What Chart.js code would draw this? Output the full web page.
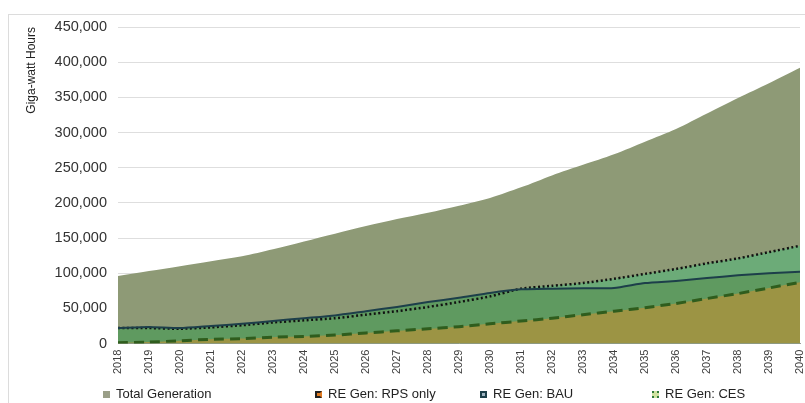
<!DOCTYPE html>
<html>
<head>
<meta charset="utf-8">
<script src="https://cdn.jsdelivr.net/npm/chart.js@4"></script>
<style>
  html, body { margin: 0; padding: 0; background: #fff; }
  #wrap { position: relative; width: 805px; height: 403px; overflow: hidden; }
  #frame { position: absolute; left: 8px; top: 14px; width: 820px; height: 420px; border: 1px solid #dcdcdc; }
  canvas { position: absolute; left: 0; top: 0; }
  .leyenda { position: absolute; top: 386px; font: 13px "Liberation Sans", Arial, sans-serif; color: #222; white-space: nowrap; }
  .leyenda i { display: inline-block; width: 7px; height: 7px; margin-right: 6px; vertical-align: 0px; box-sizing: border-box; }
</style>
</head>
<body>
<div id="wrap">
  <div id="frame"></div>
  <canvas id="grafica" width="805" height="403"></canvas>
  <div id="leyendas"></div>
</div>
<script>
const anios = ['2018','2019','2020','2021','2022','2023','2024','2025','2026','2027','2028','2029',
  '2030','2031','2032','2033','2034','2035','2036','2037','2038','2039','2040']

// valores en GWh
const totalGen = [96000,103000,110000,117000,124000,134000,145000,156000,167000,177000,186000,196000,
  207000,222000,239000,254000,269000,287000,305000,327000,349000,370000,392000]
const rpsOnly = [1000,2000,4000,6000,7000,9000,10000,12000,15000,18000,21000,24000,
  28000,32000,36000,41000,46000,51000,57000,64000,71000,79000,87000]
const bau = [22000,23500,22000,25000,28000,32000,36000,40000,46000,52000,59000,65000,
  72000,77000,78000,78500,79000,86000,89000,93000,97000,100000,102000]
const ces = [22000,22000,21000,23000,26000,30000,33000,36000,41000,46000,52000,59000,
  67000,78000,82000,86000,92000,99000,106000,114000,121000,130000,139000]

const yTicks = [0,50000,100000,150000,200000,250000,300000,350000,400000,450000]

const ctx = document.getElementById('grafica')

const graficaAreas = new Chart(ctx, {
  type:'line',
  data:{
    labels: anios,
    datasets:[
      {
        label:'Total Generation',
        data: totalGen,
        order:4,
        fill:'origin',
        backgroundColor:'#8e9a76',
        borderColor:'rgba(0,0,0,0)',
        borderWidth:0,
        pointRadius:0,
        tension:0.3
      },
      {
        label:'RE Gen: RPS only',
        data: rpsOnly,
        order:1,
        fill:'origin',
        backgroundColor:'#9c9444',
        borderColor:'#2f5d1d',
        borderWidth:3,
        borderDash:[10,6],
        pointRadius:0,
        tension:0.2
      },
      {
        label:'RE Gen: BAU',
        data: bau,
        order:2,
        fill:'origin',
        backgroundColor:'#5f9a60',
        borderColor:'#1d3f4a',
        borderWidth:2,
        pointRadius:0,
        tension:0.2
      },
      {
        label:'RE Gen: CES',
        data: ces,
        order:3,
        fill:'origin',
        backgroundColor:'#6cab78',
        borderColor:'#111',
        borderWidth:2.5,
        borderDash:[2,2.5],
        pointRadius:0,
        tension:0.2
      }
    ]
  },
  options:{
    responsive:false,
    animation:false,
    layout:{ autoPadding:false, padding:{ left:24, right:5, top:27, bottom:23 } },
    plugins:{
      filler:{ drawTime:'beforeDatasetsDraw' },
      tooltip:{ enabled:false },
      legend:{ display:false }
    },
    scales:{
      x:{
        offset:false,
        afterFit:(scale) => { scale.paddingLeft = 0; scale.paddingRight = 0 },
        grid:{ display:false, drawTicks:false },
        border:{ display:true, color:'#9a9a9a' },
        ticks:{
          autoSkip:false,
          maxRotation:90,
          minRotation:90,
          padding:6,
          color:'#404040',
          font:{ family:'Liberation Sans, Arial, sans-serif', size:11 }
        }
      },
      y:{
        min:0,
        max:450000,
        afterBuildTicks:(scale) => { scale.ticks = yTicks.map(v => ({value:v})) },
        afterFit:(scale) => { scale.width = 94; scale.paddingTop = 0; scale.paddingBottom = 0 },
        grid:{ color:'#dedede', drawTicks:false },
        border:{ display:false },
        title:{
          display:true,
          text:'Giga-watt Hours',
          align:'end',
          color:'#222',
          padding:{ top:0, bottom:0 },
          font:{ family:'Liberation Sans, Arial, sans-serif', size:12 }
        },
        ticks:{
          padding:11,
          color:'#333',
          font:{ family:'Liberation Sans, Arial, sans-serif', size:14.5 },
          callback:(v) => v.toLocaleString('en-US')
        }
      }
    }
  }
})

// leyenda en HTML, colocada como en la imagen original
const leyendaTextos = graficaAreas.data.datasets.map(ds => ds.label)
const leyendaX = [103, 315, 480, 652]
const leyendaIconos = [
  'background:#9a9f88;',
  'background:#e07b22;border:2px solid #222;border-right-color:#e07b22;',
  'background:#9fb4c2;border:2px solid #1d3f4a;',
  'background:#cfe3a0;border:2px dotted #2f7a3a;'
]
const cont = document.getElementById('leyendas')
leyendaTextos.forEach((t, i) => {
  const d = document.createElement('div')
  d.className = 'leyenda'
  d.style.left = leyendaX[i] + 'px'
  d.innerHTML = '<i style="' + leyendaIconos[i] + '"></i>' + t
  cont.appendChild(d)
})
</script>
</body>
</html>
